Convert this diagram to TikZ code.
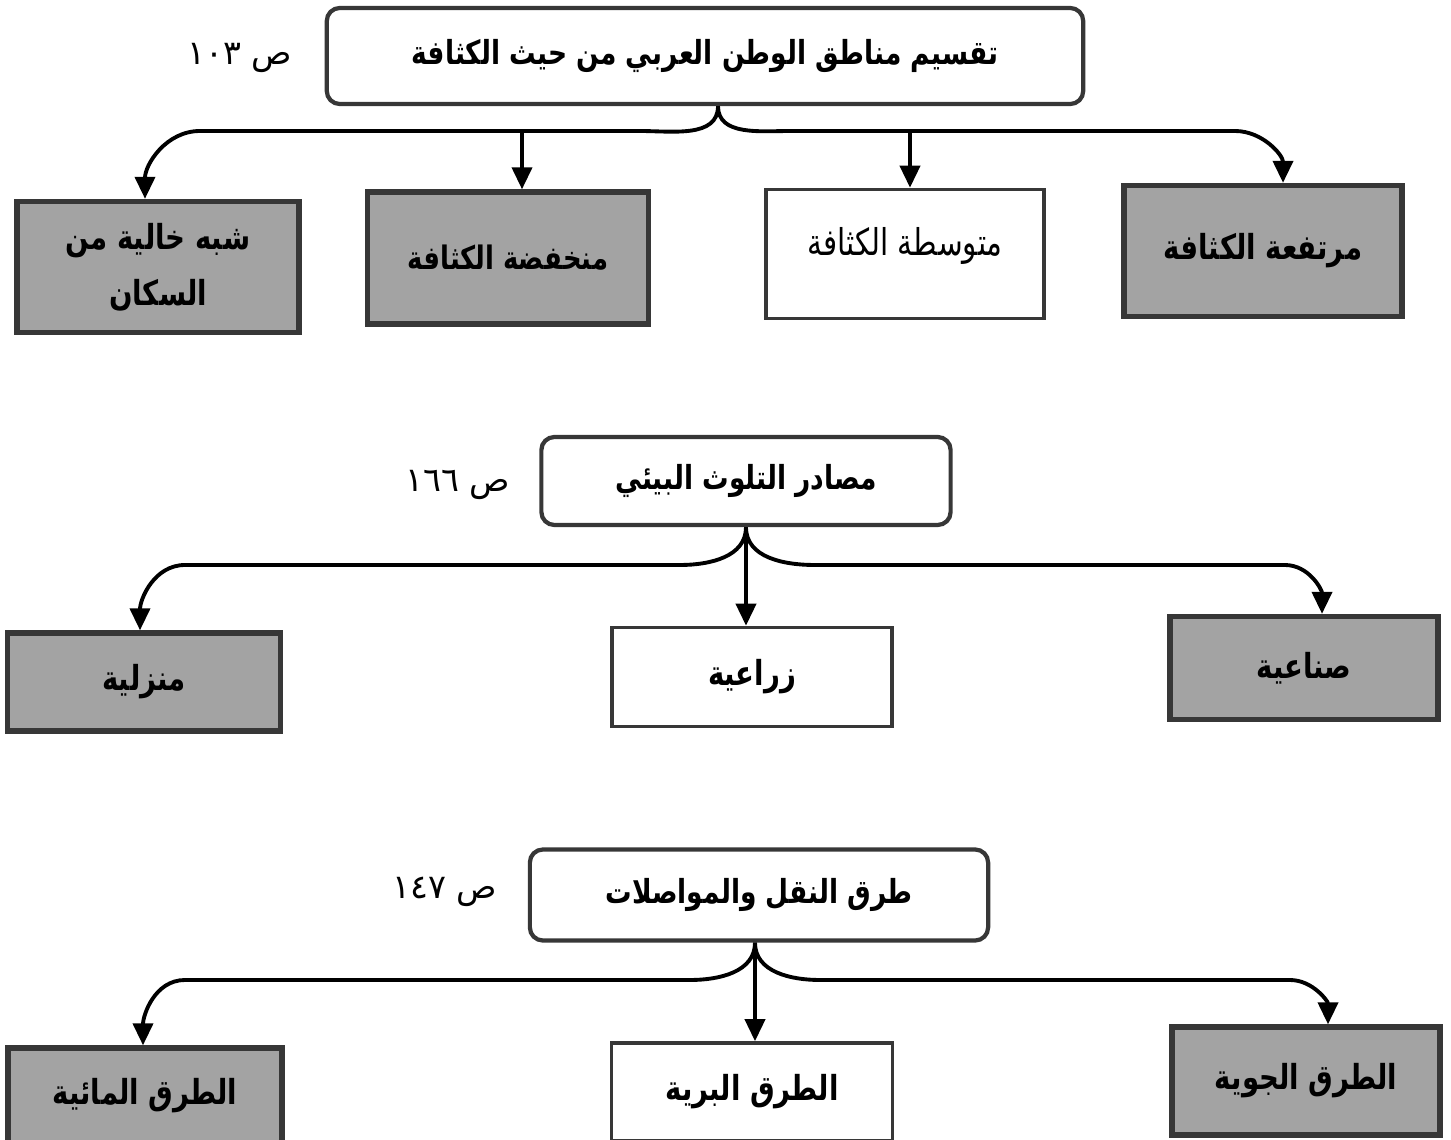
\documentclass[tikz,border=0pt]{standalone}
\usepackage{fontspec}
\usetikzlibrary{arrows.meta,positioning}
\newfontfamily\arabicfont[Script=Arabic]{DejaVu Sans}
\newfontfamily\arabicnarrow[Script=Arabic,FakeStretch=0.8]{DejaVu Sans}
\TeXXeTstate=1
\newcommand{\rtl}[1]{\beginR #1\endR}
\definecolor{boxfill}{RGB}{163,163,163}
\definecolor{boxline}{RGB}{55,55,55}

\begin{document}
\begin{tikzpicture}[x=0.01cm,y=-0.01cm,>={Triangle[width=0.2cm,length=0.22cm]},line width=1.1pt,
  head/.style={draw=boxline,rounded corners=0.13cm,line width=1.2pt,inner sep=0pt,
    font=\arabicnarrow\bfseries\fontsize{9.4}{12}\selectfont},
  graybox/.style={draw=boxline,fill=boxfill,line width=1.5pt,inner sep=0pt,align=center,
    font=\arabicnarrow\bfseries\fontsize{9.8}{16}\selectfont},
  whitebox/.style={graybox,fill=white,line width=1pt},
  pagelabel/.style={font=\arabicfont\fontsize{9.5}{12}\selectfont}]

\path[use as bounding box,clip] (0,0) rectangle (1451,1140);

% first chart
\node[head,minimum width=7.56cm,minimum height=0.96cm] (dens) at (705,56) {\rtl{تقسيم مناطق الوطن العربي من حيث الكثافة}};
\node[pagelabel] (densp) at (240,58) {\rtl{ص ١٠٣}};
\node[graybox,minimum width=2.82cm,minimum height=1.31cm] (empty) at (158,267) {\rtl{شبه خالية من}\\\rtl{السكان}};
\node[graybox,minimum width=2.81cm,minimum height=1.32cm,font=\arabicnarrow\bfseries\fontsize{9.2}{16}\selectfont] (low) at (508,258) {\rtl{منخفضة الكثافة}};
\node[whitebox,minimum width=2.78cm,minimum height=1.29cm,text depth=0.25cm,font=\arabicnarrow\fontsize{10.5}{16}\selectfont] (mid) at (905,254) {\rtl{متوسطة الكثافة}};
\node[graybox,minimum width=2.78cm,minimum height=1.31cm] (high) at (1263,251) {\rtl{مرتفعة الكثافة}};

\draw[->] ([xshift=0.13cm]dens.south) to[out=-90,in=0] (640,131) -- (200,131) to[out=180,in=90] ([xshift=-0.13cm]empty.north);
\draw[->] ([xshift=0.13cm]dens.south) to[out=-90,in=180] (790,131) -- (1235,131) to[out=0,in=90] ([xshift=0.2cm]high.north);
\draw[->] ([xshift=0.14cm]low.north |- 0,131) -- ([xshift=0.14cm]low.north);
\draw[->] (910,131) -- (mid.north -| 910,0);

% second chart
\node[head,minimum width=4.09cm,minimum height=0.88cm] (poll) at (746,481) {\rtl{مصادر التلوث البيئي}};
\node[pagelabel] (pollp) at (458,485) {\rtl{ص ١٦٦}};
\node[graybox,minimum width=2.73cm,minimum height=0.98cm] (home) at (144,682) {\rtl{منزلية}};
\node[whitebox,minimum width=2.80cm,minimum height=0.99cm] (farm) at (752,677) {\rtl{زراعية}};
\node[graybox,minimum width=2.68cm,minimum height=1.03cm] (ind) at (1304,668) {\rtl{صناعية}};

\draw[->] (poll.south) to[out=-90,in=0] (680,565) -- (185,565) to[out=180,in=90] ([xshift=-0.04cm]home.north);
\draw[->] (poll.south) to[out=-90,in=180] (815,565) -- (1285,565) to[out=0,in=90] ([xshift=0.18cm]ind.north);
\draw[->] (poll.south) -- (poll.south |- farm.north);

% third chart
\node[head,minimum width=4.58cm,minimum height=0.91cm] (road) at (759,895) {\rtl{طرق النقل والمواصلات}};
\node[pagelabel] (roadp) at (445,892) {\rtl{ص ١٤٧}};
\node[graybox,minimum width=2.74cm,minimum height=0.96cm] (water) at (145,1096) {\rtl{الطرق المائية}};
\node[whitebox,minimum width=2.81cm,minimum height=0.98cm] (land) at (752,1092) {\rtl{الطرق البرية}};
\node[graybox,minimum width=2.68cm,minimum height=1.08cm] (air) at (1306,1081) {\rtl{الطرق الجوية}};

\draw[->] ([xshift=-0.04cm]road.south) to[out=-90,in=0] (690,980) -- (185,980) to[out=180,in=90] ([xshift=-0.02cm]water.north);
\draw[->] ([xshift=-0.04cm]road.south) to[out=-90,in=180] (820,980) -- (1290,980) to[out=0,in=90] ([xshift=0.22cm]air.north);
\draw[->] ([xshift=-0.04cm]road.south) -- ([xshift=-0.04cm]road.south |- land.north);
\end{tikzpicture}
\end{document}
